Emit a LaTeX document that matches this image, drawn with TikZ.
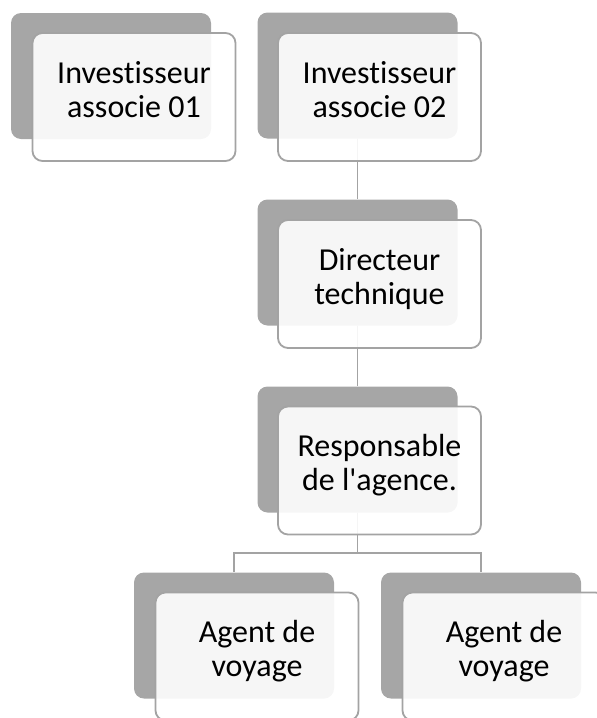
\documentclass[tikz,border=0pt]{standalone}
\usepackage{fontspec}
\newfontfamily\cfont{Carlito}[Ligatures=NoCommon]
\definecolor{dgray}{HTML}{A6A6A6}
\definecolor{bgray}{HTML}{A3A3A3}
\newcommand\TwoLn[2]{\smash{\makebox[0pt]{\raisebox{14pt}{#1}}\makebox[0pt]{\raisebox{-20pt}{#2}}}}
\begin{document}
\begin{tikzpicture}[x=1pt,y=-1pt,
  back/.style={fill=dgray, rounded corners=10pt, minimum width=200pt, minimum height=126pt, inner sep=0pt},
  front/.style={draw=bgray, line width=1.8pt, fill=white, fill opacity=0.9, text opacity=1, rounded corners=10pt,
    minimum width=203pt, minimum height=128pt, inner sep=0pt,
    font=\cfont\fontsize{32}{34}\selectfont},
  conn/.style={draw=bgray, line width=1.8pt}]
\useasboundingbox (0,0) rectangle (597,718);
% back boxes
\node[back] (d1) at (111,76) {};
\node[back] (d2) at (357.5,75.5) {};
\node[back] (d3) at (357.5,262.5) {};
\node[back] (d4) at (357.5,449.5) {};
\node[back] (d5) at (234,635.5) {};
\node[back] (d6) at (481,635.5) {};
% connectors
\coordinate (j) at (357.5,553);
\draw[conn] (d2.south) -- (d3.north);
\draw[conn] (d3.south) -- (d4.north);
\draw[conn] (d4.south) -- (j);
\draw[conn] (j) -| (d5.north);
\draw[conn] (j) -| (d6.north);
% front boxes
\node[front] (f1) at (134,97) {\TwoLn{Investisseur}{associe 01}};
\node[front] (f2) at (379.5,97) {\TwoLn{Investisseur}{associe 02}};
\node[front] (f3) at (379.5,284) {\TwoLn{Directeur}{technique}};
\node[front] (f4) at (379.5,470.5) {\TwoLn{Responsable}{de l'agence.}};
\node[front] (f5) at (257,656.5) {\TwoLn{Agent de}{voyage}};
\node[front] (f6) at (504,656.5) {\TwoLn{Agent de}{voyage}};
\end{tikzpicture}
\end{document}
